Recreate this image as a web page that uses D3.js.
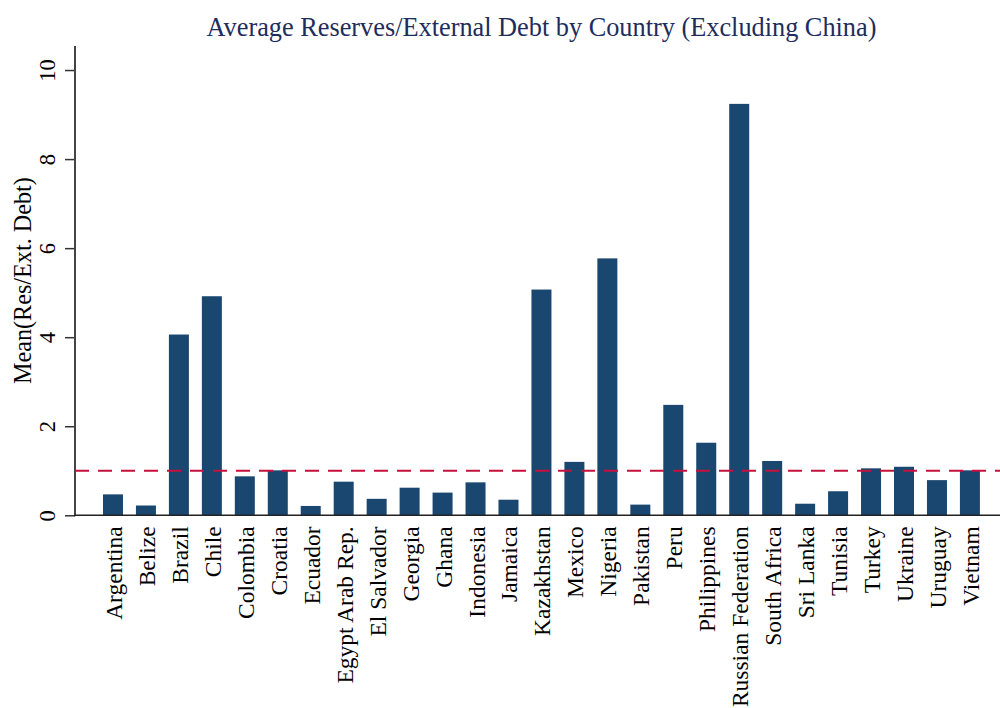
<!DOCTYPE html>
<html>
<head>
<meta charset="utf-8">
<script src="https://cdn.jsdelivr.net/npm/d3@7"></script>
<style>
  html, body { margin: 0; padding: 0; background: #ffffff; }
  svg { display: block; font-family: "Liberation Serif", "Times New Roman", serif; }
</style>
</head>
<body>
<svg id="chart" width="1000" height="708"></svg>
<script>
// Country categories in plotted order
const countries = [
  "Argentina", "Belize", "Brazil", "Chile", "Colombia", "Croatia", "Ecuador",
  "Egypt Arab Rep.", "El Salvador", "Georgia", "Ghana", "Indonesia", "Jamaica",
  "Kazakhstan", "Mexico", "Nigeria", "Pakistan", "Peru", "Philippines",
  "Russian Federation", "South Africa", "Sri Lanka", "Tunisia", "Turkey",
  "Ukraine", "Uruguay", "Vietnam"
];

// Mean of reserves / external debt per country
const meanRatio = [
  0.47, 0.22, 4.06, 4.92, 0.875, 1.01, 0.21,
  0.755, 0.37, 0.62, 0.51, 0.74, 0.35,
  5.07, 1.20, 5.77, 0.24, 2.48, 1.63,
  9.24, 1.22, 0.26, 0.54, 1.055,
  1.09, 0.79, 1.01
];

// Y axis tick values and reference line level
const yTicks = [0, 2, 4, 6, 8, 10];
const referenceLevel = [1];

const titleText = "Average Reserves/External Debt by Country (Excluding China)";
const yTitleText = "Mean(Res/Ext. Debt)";

const svg = d3.select("#chart");
const plot = { left: 75, right: 1000, top: 46, bottom: 515.3 };

const x = d3.scaleBand()
  .domain(countries)
  .range([96.5, 986.4])
  .paddingInner(0.3932)
  .paddingOuter(0.3932 / 2);

const y = d3.scaleLinear()
  .domain([0, 10.54])
  .range([plot.bottom, plot.top]);

// Bars
svg.append("g")
  .selectAll("rect")
  .data(countries.map((c, i) => ({ c, v: meanRatio[i] })))
  .join("rect")
  .attr("x", d => x(d.c))
  .attr("width", x.bandwidth())
  .attr("y", d => y(d.v))
  .attr("height", d => y(0) - y(d.v))
  .attr("fill", "#1a476f");

// Dashed reference line
svg.append("g")
  .selectAll("line")
  .data(referenceLevel)
  .join("line")
  .attr("x1", plot.left)
  .attr("x2", plot.right)
  .attr("y1", d => y(d))
  .attr("y2", d => y(d))
  .attr("stroke", "#c8103c")
  .attr("stroke-width", 2)
  .attr("stroke-dasharray", "14 9");

// Y axis
const yAxis = d3.axisLeft(y)
  .tickValues(yTicks)
  .tickSize(10)
  .tickPadding(10)
  .tickFormat(d3.format("d"));

const gy = svg.append("g")
  .attr("transform", `translate(${plot.left},0)`)
  .call(yAxis);
gy.select(".domain").remove();
gy.selectAll(".tick line").attr("stroke", "#333").attr("stroke-width", 1.5);
gy.selectAll(".tick text")
  .attr("x", null).attr("dy", null)
  .attr("text-anchor", "middle")
  .attr("font-size", 22.5)
  .attr("font-family", "Liberation Serif")
  .attr("fill", "#000")
  .attr("transform", "translate(-20,0) rotate(-90)");

svg.append("line")
  .attr("x1", plot.left).attr("x2", plot.left)
  .attr("y1", plot.top).attr("y2", plot.bottom + 1)
  .attr("stroke", "#444").attr("stroke-width", 2);

// X axis
const xAxis = d3.axisBottom(x).tickSize(0).tickPadding(0);
const gx = svg.append("g")
  .attr("transform", `translate(0,${plot.bottom})`)
  .call(xAxis);
gx.select(".domain").remove();
gx.selectAll(".tick text")
  .attr("y", null).attr("dy", null)
  .attr("text-anchor", "end")
  .attr("dominant-baseline", "central")
  .attr("font-size", 23.5)
  .attr("font-family", "Liberation Serif")
  .attr("fill", "#000")
  .attr("transform", "translate(1,11) rotate(-90)");

svg.append("line")
  .attr("x1", plot.left - 1).attr("x2", plot.right)
  .attr("y1", plot.bottom).attr("y2", plot.bottom)
  .attr("stroke", "#222").attr("stroke-width", 1.5);

// Y axis title
svg.append("text")
  .attr("transform", `translate(31,${(plot.top + plot.bottom) / 2}) rotate(-90)`)
  .attr("text-anchor", "middle")
  .attr("font-size", 24.2)
  .attr("fill", "#000")
  .text(yTitleText);

// Chart title
svg.append("text")
  .attr("x", 541.5)
  .attr("y", 36)
  .attr("text-anchor", "middle")
  .attr("font-size", 26.3)
  .attr("fill", "#1e2d5c")
  .text(titleText);
</script>
</body>
</html>
